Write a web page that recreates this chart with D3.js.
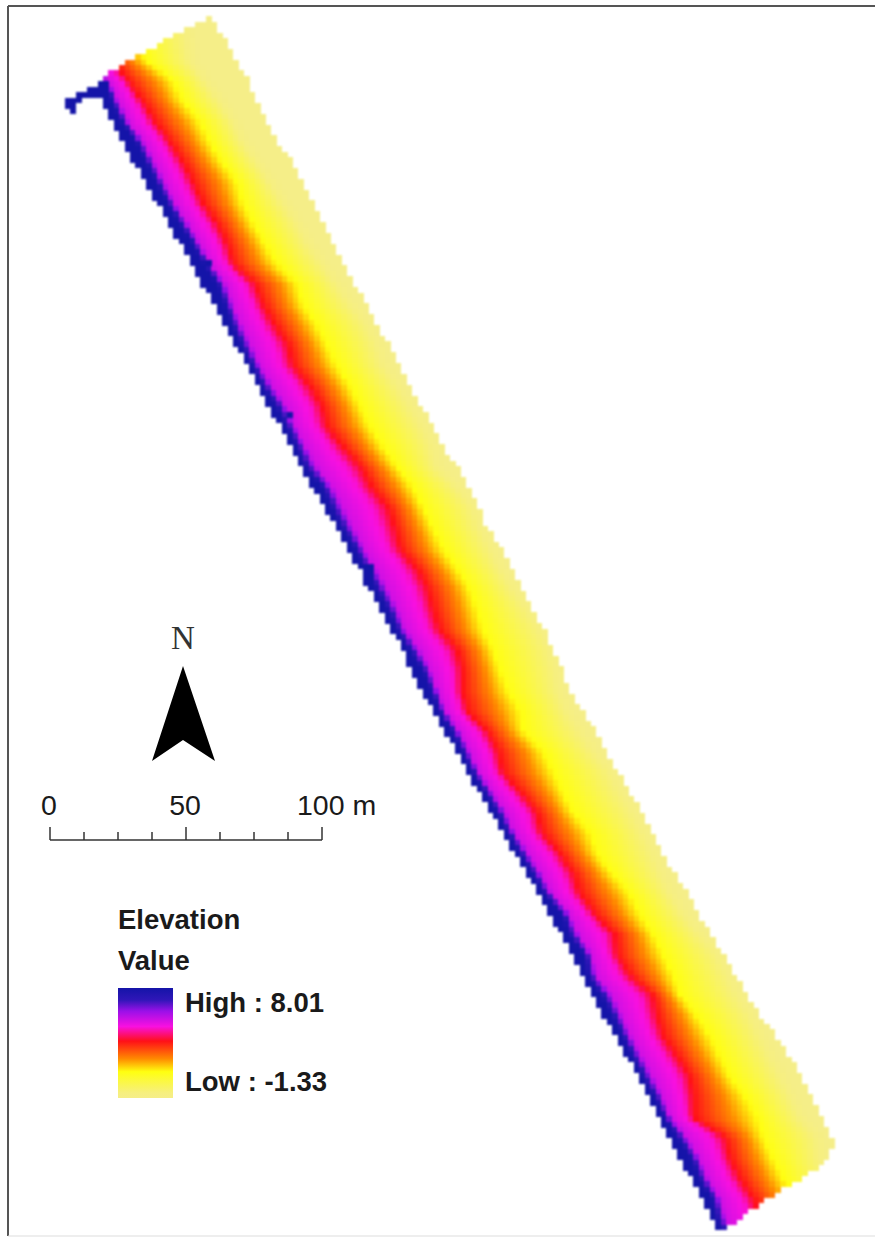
<!DOCTYPE html>
<html>
<head>
<meta charset="utf-8">
<title>Elevation</title>
<script src="https://cdn.jsdelivr.net/npm/d3@7"></script>
<style>
    html, body { margin: 0; padding: 0; background: #fff; }
    svg { display: block; }
    text { font-family: "Liberation Sans", Arial, sans-serif; fill: #1a1a1a; }
</style>
</head>
<body>
<div id="map"></div>
<script>
// all map values in metres, measured from the top left corner of the frame

// south distance of each transect read across the strip
const southing = [0,7.5,15,22.5,30,37.5,45,52.5,60,67.5,75,82.5,90,97.5,105,112.5,120,127.5,135,142.5,150,157.5,165,172.5,180,187.5,195,202.5,210,217.5,225,232.5,240,247.5,255,262.5,270,277.5,285,292.5,300,307.5,315,322.5,330,337.5,345,352.5,360,367.5,375,382.5,390,397.5,405,412.5,420,427.5,435,442.5,450,457.5];

// strip outline
const westEdge = [90.5,75.7,60.9,47.3,36.6,37.3,41.4,45.4,49.5,53.5,58.0,62.0,66.5,70.9,74.9,79.0,83.1,87.1,91.2,94.9,98.9,103.4,107.1,111.1,115.6,120.0,124.1,128.5,132.5,136.6,140.3,144.4,148.8,152.1,155.8,159.9,164.3,168.4,172.8,176.8,181.6,185.7,190.1,194.6,199.0,203.1,207.1,211.2,214.5,218.9,223.0,227.1,231.5,235.5,239.2,243.3,247.0,250.7,255.1,259.2,262.9,267.3];
const eastEdge = [75.7,78.6,83.1,87.1,91.6,94.9,98.6,102.3,107.8,111.9,115.2,119.3,122.6,126.3,130.7,135.5,139.2,143.3,147.7,151.4,155.4,159.5,163.2,168.7,173.5,176.5,179.8,185.7,189.0,193.1,196.8,200.8,204.2,207.9,209.7,215.2,220.4,224.1,227.8,232.6,237.0,240.3,244.4,249.2,254.0,257.3,262.5,266.9,271.4,275.8,280.6,286.1,291.7,295.4,299.1,302.7,307.6,306.6,295.4,283.2,272.1,264.0];

// where each transect crosses the main colour breaks
const blueLine = [22.2,24.4,26.6,31.0,38.4,41.4,45.0,50.6,54.3,58.0,62.0,66.5,71.3,75.7,80.5,83.1,86.0,89.3,93.0,97.1,102.3,106.0,109.7,113.0,119.3,122.6,126.6,131.1,135.1,139.2,143.3,146.6,151.4,156.2,159.5,162.4,166.9,170.9,174.6,179.1,183.9,187.6,192.0,196.8,201.2,207.9,210.4,216.0,217.1,222.3,226.3,230.0,233.7,237.4,241.8,245.5,250.3,255.5,258.4,262.9,264.7,268.8];
const redLine = [24.0,27.7,34.0,41.4,47.3,52.8,57.2,62.8,67.6,71.3,74.9,80.1,83.8,86.0,94.1,97.1,101.5,106.3,108.2,114.5,118.9,120.7,126.6,133.3,137.3,143.3,145.8,147.7,154.0,158.0,159.9,162.4,168.7,170.6,170.6,172.4,179.8,183.9,185.7,192.0,198.3,200.1,206.8,211.6,214.1,219.7,227.1,227.8,232.6,241.1,242.6,244.8,250.0,254.7,255.9,256.2,267.7,269.5,273.2,278.0,281.3,285.0];
const yellowLine = [38.8,44.3,49.8,54.3,63.9,67.6,73.8,77.5,82.0,87.5,89.7,93.4,97.8,102.3,109.7,111.9,117.0,120.7,124.4,129.2,132.9,136.6,141.4,146.6,152.5,156.2,159.9,163.6,168.7,173.5,176.1,178.3,182.0,184.6,187.6,192.0,193.1,200.5,204.2,207.9,211.6,217.8,220.4,225.9,232.6,236.3,241.1,244.8,248.5,251.1,257.3,262.1,265.8,269.5,275.1,279.5,281.7,285.4,289.1,293.5,298.3,302.7];
const paleLine = [68.3,68.3,69.0,70.1,75.7,81.2,86.0,89.7,94.9,99.7,104.5,109.7,113.7,118.9,124.4,129.2,135.5,139.2,141.4,146.6,151.4,155.8,159.5,161.3,168.7,174.6,177.2,180.9,184.6,189.4,194.6,199.4,203.1,204.9,206.0,209.3,214.1,218.9,225.2,228.9,233.7,237.4,241.1,243.7,247.4,252.2,258.4,264.7,268.4,272.1,276.9,280.6,284.3,288.0,291.7,295.4,301.6,302.7,304.6,308.3,312.0,315.7];

// single high cells outside the blue band: the tail at the top and a few spots
const highCols = [18,19,16,17,18,19,14,15,16,17,18,19,12,13,14,12,13,13,38,53,67,68,67,68,67,68,67,68];
const highRows = [15,15,16,16,16,16,17,17,17,17,17,17,18,18,18,19,19,20,48,76,104,104,105,105,106,106,107,107];

// elevation colour ramp
const elevStops = [8.01,7.0,6.05,4.74,3.5,2.0,0.9,-0.9,-1.33];
const elevColors = ["#1414a8","#3016b8","#9a10e8","#f810e0","#ff1018","#ff8a00","#ffff10","#f6ef80","#f5ee88"];

// scale bar and legend text
const scaleTicks = [0,12.5,25,37.5,50,62.5,75,87.5,100];
const scaleLabels = [0,50,100];
const legendTitles = ["Elevation","Value"];
const legendHigh = "High : 8.01";
const legendLow = "Low : -1.33";

const cellSize = 2; // metres per raster cell
const width = 875, height = 1237;

const svg = d3.select("#map").append("svg")
    .attr("width", width)
    .attr("height", height);

// ground scale, 100 m is about 271 px on this sheet
const x = d3.scaleLinear().domain([0, 323]).range([0, width]);
const y = d3.scaleLinear().domain([0, 456.6]).range([0, height]);
const color = d3.scaleLinear().domain(elevStops).range(elevColors).clamp(true);

// frame
svg.append("line").attr("x1", 8).attr("x2", 8).attr("y1", 6).attr("y2", 1236)
    .attr("stroke", "#555").attr("stroke-width", 2);
svg.append("line").attr("x1", 8).attr("x2", width).attr("y1", 6).attr("y2", 6)
    .attr("stroke", "#555").attr("stroke-width", 2);
svg.append("line").attr("x1", 8).attr("x2", width).attr("y1", 1236).attr("y2", 1236)
    .attr("stroke", "#ddd").attr("stroke-width", 1);

// line position along the strip
const along = line => d3.scaleLinear().domain(southing).range(line);
const west = along(westEdge), east = along(eastEdge);
const blue = along(blueLine), red = along(redLine), yellow = along(yellowLine), pale = along(paleLine);

function elevationAt(e, s) {
    let b = blue(s), r = red(s), yl = yellow(s), p = pale(s);
    return d3.scaleLinear()
        .domain([b - 1, b, b + 0.2 * (r - b), b + 0.75 * (r - b), r, r + 0.6 * (yl - r), yl, p, p + 4])
        .range([8.0, 7.7, 5.3, 4.6, 3.5, 2.0, 0.9, -0.9, -1.33])
        .clamp(true)(e);
}

// build the raster
let cells = [];
d3.range(0, 229).forEach(row => {
    let s = (row + 0.5) * cellSize;
    d3.range(0, 165).forEach(col => {
        let e = (col + 0.5) * cellSize;
        if (e >= west(s) && e <= east(s)) {
            cells.push({col: col, row: row, value: elevationAt(e, s)});
        }
    });
});
highCols.forEach((c, i) => cells.push({col: c, row: highRows[i], value: 8.01}));

svg.append("g")
    .style("filter", "blur(0.8px)")
    .selectAll("rect")
    .data(cells)
    .enter().append("rect")
    .attr("x", d => x(d.col * cellSize))
    .attr("y", d => y(d.row * cellSize))
    .attr("width", x(cellSize) + 0.5)
    .attr("height", y(cellSize) + 0.5)
    .attr("fill", d => color(d.value))
    .attr("shape-rendering", "crispEdges");

// north arrow
svg.append("text")
    .attr("x", 183).attr("y", 649)
    .attr("text-anchor", "middle")
    .style("font-family", "'Liberation Serif', serif")
    .style("font-size", "33px")
    .style("fill", "#333")
    .text("N");
svg.append("path")
    .attr("d", d3.line()([[183, 666], [215, 761], [183, 740], [152, 761]]) + "Z")
    .attr("fill", "#000");

// scale bar
const barScale = d3.scaleLinear().domain([0, 100]).range([50, 322]);
const bar = svg.append("g").attr("transform", "translate(0, 840)");
bar.append("line")
    .attr("x1", barScale(0)).attr("x2", barScale(100))
    .attr("stroke", "#333").attr("stroke-width", 1.5);
bar.selectAll(".barTick")
    .data(scaleTicks)
    .enter().append("line")
    .attr("class", "barTick")
    .attr("x1", d => barScale(d)).attr("x2", d => barScale(d))
    .attr("y1", 0)
    .attr("y2", d => scaleLabels.includes(d) ? -13 : -8)
    .attr("stroke", "#333").attr("stroke-width", 1.5);
bar.selectAll(".barLabel")
    .data(scaleLabels)
    .enter().append("text")
    .attr("class", "barLabel")
    .attr("x", d => d === 100 ? barScale(d) - 25 : barScale(d) - 1)
    .attr("y", -25)
    .attr("text-anchor", d => d === 100 ? "start" : "middle")
    .style("font-size", "28.5px")
    .text(d => d === 100 ? d + " m" : d);

// legend
const legendY = d3.scaleLinear().domain([8.01, -1.33]).range([988, 1098]);
const gradient = svg.append("defs").append("linearGradient")
    .attr("id", "elevRamp")
    .attr("x1", 0).attr("x2", 0).attr("y1", 0).attr("y2", 1);
gradient.selectAll("stop")
    .data(elevStops)
    .enter().append("stop")
    .attr("offset", d => (legendY(d) - 988) / 110)
    .attr("stop-color", d => color(d));

svg.append("rect")
    .attr("x", 118).attr("y", legendY(8.01))
    .attr("width", 55).attr("height", legendY(-1.33) - legendY(8.01))
    .attr("fill", "url(#elevRamp)");

svg.selectAll(".legendTitle")
    .data(legendTitles)
    .enter().append("text")
    .attr("class", "legendTitle")
    .attr("x", 118)
    .attr("y", (d, i) => 929 + i * 41)
    .style("font-size", "27.5px")
    .style("font-weight", "bold")
    .text(d => d);

svg.append("text").attr("x", 185).attr("y", 1012)
    .style("font-size", "27.5px").style("font-weight", "bold").text(legendHigh);
svg.append("text").attr("x", 185).attr("y", 1091)
    .style("font-size", "27.5px").style("font-weight", "bold").text(legendLow);
</script>
</body>
</html>
